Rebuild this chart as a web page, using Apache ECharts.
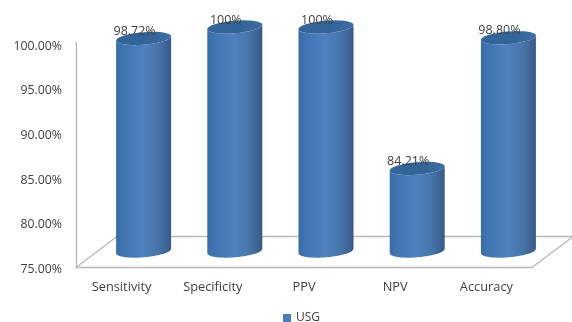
<!DOCTYPE html>
<html>
<head>
<meta charset="utf-8">
<style>html,body{margin:0;padding:0;background:#fff}#chart{width:572px;height:322px}</style>
<script src="https://cdn.jsdelivr.net/npm/echarts@6/dist/echarts.min.js"></script>
</head>
<body>
<div id="chart"></div>
<script>
// Diagnostic performance of USG, shown as 3D-style cylinders
const categories = ['Sensitivity', 'Specificity', 'PPV', 'NPV', 'Accuracy'];
const usgValues = [98.72, 100, 100, 84.21, 98.8];
const usgLabels = ['98.72%', '100%', '100%', '84.21%', '98.80%'];
const axisMin = 75;
const axisMax = 100;
const axisStep = 5;

const FONT = '"Open Sans", sans-serif';
const TEXT = '#404040';
const WALL = '#b9b9b9';
const DEPTH_X = 41;
const DEPTH_Y = -31;
const RY = 6.3;
const SHEAR = 0.08;

const chart = echarts.init(document.getElementById('chart'), null, { renderer: 'canvas' });

// Sheared elliptical arc, sampled from angle a0 to a1
function arc(cx, cy, rx, a0, a1) {
  const pts = [];
  for (let i = 0; i <= 40; i++) {
    const t = a0 + (a1 - a0) * i / 40;
    pts.push([cx + rx * Math.cos(t), cy + RY * Math.sin(t) - SHEAR * rx * Math.cos(t)]);
  }
  return pts;
}

function renderFloor(params, api) {
  const r = params.coordSys;
  const left = r.x, right = r.x + r.width, front = r.y + r.height;
  const line = (points) => ({
    type: 'polyline',
    shape: { points },
    style: { stroke: WALL, lineWidth: 1.4, fill: null },
    silent: true
  });
  return {
    type: 'group',
    children: [
      line([[left, front], [left + DEPTH_X, front + DEPTH_Y], [right + DEPTH_X, front + DEPTH_Y], [right, front]]),
      line([[left, r.y - 2], [left, r.y]])
    ]
  };
}

function renderCylinder(params, api) {
  const idx = api.value(0);
  const top = api.coord([idx, api.value(1)]);
  const base = api.coord([idx, axisMin]);
  const rx = api.size([1, 0])[0] * 0.603 / 2;
  const cx = top[0];
  // Along the front of the base, then up the right edge and back along the top
  const bodyPts = arc(cx, base[1], rx, Math.PI, 0).reverse().concat(arc(cx, top[1], rx, 0, Math.PI).reverse());
  return {
    type: 'group',
    children: [
      {
        type: 'polygon',
        shape: { points: bodyPts },
        style: {
          fill: new echarts.graphic.LinearGradient(0, 0, 1, 0, [
            { offset: 0, color: '#3a6ca6' },
            { offset: 0.15, color: '#4175b2' },
            { offset: 0.5, color: '#4f81bf' },
            { offset: 0.75, color: '#4775a9' },
            { offset: 0.92, color: '#3e6394' },
            { offset: 1, color: '#365985' }
          ])
        }
      },
      {
        type: 'polygon',
        shape: { points: arc(cx, top[1], rx, 0, Math.PI * 2) },
        style: {
          fill: new echarts.graphic.LinearGradient(0, 0, 1, 0, [
            { offset: 0, color: '#33659c' },
            { offset: 0.6, color: '#336497' },
            { offset: 1, color: '#3d6da4' }
          ])
        }
      },
      {
        type: 'text',
        x: cx - 9,
        y: top[1] - 7,
        style: {
          text: usgLabels[idx],
          font: '12.5px ' + FONT,
          fill: TEXT,
          align: 'center',
          verticalAlign: 'middle'
        }
      }
    ]
  };
}

chart.setOption({
  animation: false,
  backgroundColor: '#fff',
  legend: {
    data: [{ name: 'USG', icon: 'rect', itemStyle: { color: '#4a7ebb' } }],
    left: 278,
    top: 307,
    itemWidth: 8,
    itemHeight: 8,
    itemGap: 3,
    textStyle: { color: TEXT, fontFamily: FONT, fontSize: 12 }
  },
  grid: [
    { left: 76, top: 44, width: 456, height: 223.5 },
    { left: 98, top: 27, width: 456, height: 224 }
  ],
  xAxis: [
    {
      type: 'category',
      gridIndex: 0,
      data: categories,
      axisLine: { lineStyle: { color: WALL, width: 1.4 } },
      axisTick: { show: false },
      axisLabel: { color: TEXT, fontFamily: FONT, fontSize: 12.8, margin: 13, interval: 0 }
    },
    { type: 'category', gridIndex: 1, data: categories, show: false }
  ],
  yAxis: [
    {
      type: 'value',
      gridIndex: 0,
      min: axisMin,
      max: axisMax,
      interval: axisStep,
      axisLine: { show: true, lineStyle: { color: WALL, width: 1.4 } },
      axisTick: { show: false },
      splitLine: { show: false },
      axisLabel: {
        color: TEXT,
        fontFamily: FONT,
        fontSize: 12.3,
        margin: 14,
        verticalAlign: 'top',
        lineHeight: 4,
        formatter: (v) => v.toFixed(2) + '%'
      }
    },
    { type: 'value', gridIndex: 1, min: axisMin, max: axisMax, interval: axisStep, show: false }
  ],
  series: [
    {
      type: 'custom',
      name: 'floor',
      xAxisIndex: 0,
      yAxisIndex: 0,
      silent: true,
      z: 1,
      data: [[0, axisMin]],
      renderItem: renderFloor
    },
    {
      type: 'custom',
      name: 'USG',
      xAxisIndex: 1,
      yAxisIndex: 1,
      z: 2,
      itemStyle: { color: '#4a7ebb' },
      encode: { x: 0, y: 1 },
      data: usgValues.map((v, i) => [i, v]),
      renderItem: renderCylinder
    }
  ]
});
</script>
</body>
</html>
